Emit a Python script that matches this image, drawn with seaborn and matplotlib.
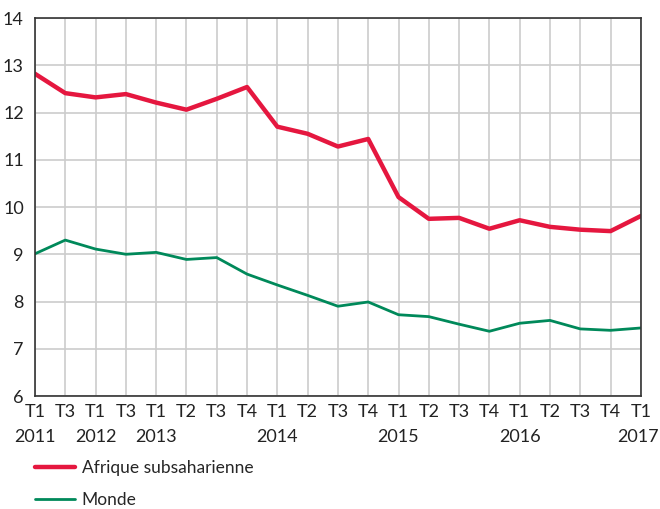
import matplotlib
matplotlib.use("Agg")
import matplotlib.pyplot as plt
import matplotlib.transforms as mtransforms
import seaborn as sns
import pandas as pd

quarters = ["T1", "T3", "T1", "T3", "T1", "T2", "T3", "T4", "T1", "T2", "T3",
            "T4", "T1", "T2", "T3", "T4", "T1", "T2", "T3", "T4", "T1"]
years = ["2011", "", "2012", "", "2013", "", "", "", "2014", "", "",
         "", "2015", "", "", "", "2016", "", "", "", "2017"]
afrique = [12.82, 12.41, 12.32, 12.39, 12.21, 12.06, 12.29, 12.54, 11.70, 11.55, 11.28,
           11.44, 10.21, 9.75, 9.77, 9.54, 9.72, 9.58, 9.52, 9.49, 9.81]
monde = [9.01, 9.30, 9.11, 9.00, 9.04, 8.89, 8.93, 8.58, 8.35, 8.13, 7.90,
         7.99, 7.72, 7.68, 7.52, 7.37, 7.54, 7.60, 7.42, 7.39, 7.44]
series_names = ["Afrique subsaharienne", "Monde"]
yticks = [6, 7, 8, 9, 10, 11, 12, 13, 14]

sns.set_style("white")
plt.rcParams["font.family"] = ["Lato", "DejaVu Sans"]

n = len(quarters)
df = pd.DataFrame({
    "i": list(range(n)) * 2,
    "val": afrique + monde,
    "serie": [series_names[0]] * n + [series_names[1]] * n,
})

fig = plt.figure(figsize=(6.6, 5.09), dpi=100)
ax = fig.add_axes([0.053, 0.222, 0.918, 0.7426])

palette = {series_names[0]: "#E5173F", series_names[1]: "#00895A"}
sns.lineplot(data=df, x="i", y="val", hue="serie", palette=palette,
             size="serie", sizes={series_names[0]: 3.2, series_names[1]: 2.0},
             ax=ax, legend=False)

ax.set_xlim(0, n - 1)
ax.set_ylim(6, 14)
ax.set_yticks(yticks)
ax.set_yticklabels([str(v) for v in yticks])

# quarter labels as major ticks, year labels as minor ticks on a second row
ax.xaxis.remove_overlapping_locs = False
ax.set_xticks(range(n))
ax.set_xticklabels(quarters)
year_pos = [i for i, y in enumerate(years) if y]
ax.set_xticks(year_pos, minor=True)
ax.set_xticklabels([years[i] for i in year_pos], minor=True)

ax.tick_params(axis="both", which="both", length=0, labelsize=13, colors="#222222")
ax.tick_params(axis="x", which="major", pad=6)
ax.tick_params(axis="x", which="minor", pad=24)
ax.tick_params(axis="y", pad=8)
ax.grid(True, which="major", color="#cccccc", linewidth=1.2)
ax.grid(False, which="minor")
ax.set_axisbelow(True)
for s in ax.spines.values():
    s.set_visible(True)
    s.set_color("#333333")
    s.set_linewidth(1.2)
ax.set_xlabel("")
ax.set_ylabel("")

# nudge the last year label slightly left so it stays inside the figure
minor_labels = ax.get_xticklabels(minor=True)
if minor_labels:
    last = minor_labels[-1]
    last.set_transform(last.get_transform() +
                       mtransforms.ScaledTranslation(-2 / 72, 0, fig.dpi_scale_trans))

from matplotlib.lines import Line2D
handles = [Line2D([0], [0], color=palette[series_names[0]], lw=3.2),
           Line2D([0], [0], color=palette[series_names[1]], lw=2.0)]
fig.legend(handles, series_names, loc="upper left", bbox_to_anchor=(0.042, 0.110),
           frameon=False, fontsize=12.5, handlelength=2.3, handletextpad=0.4,
           labelspacing=0.9, borderaxespad=0)

fig.savefig("out.png", dpi=100)
